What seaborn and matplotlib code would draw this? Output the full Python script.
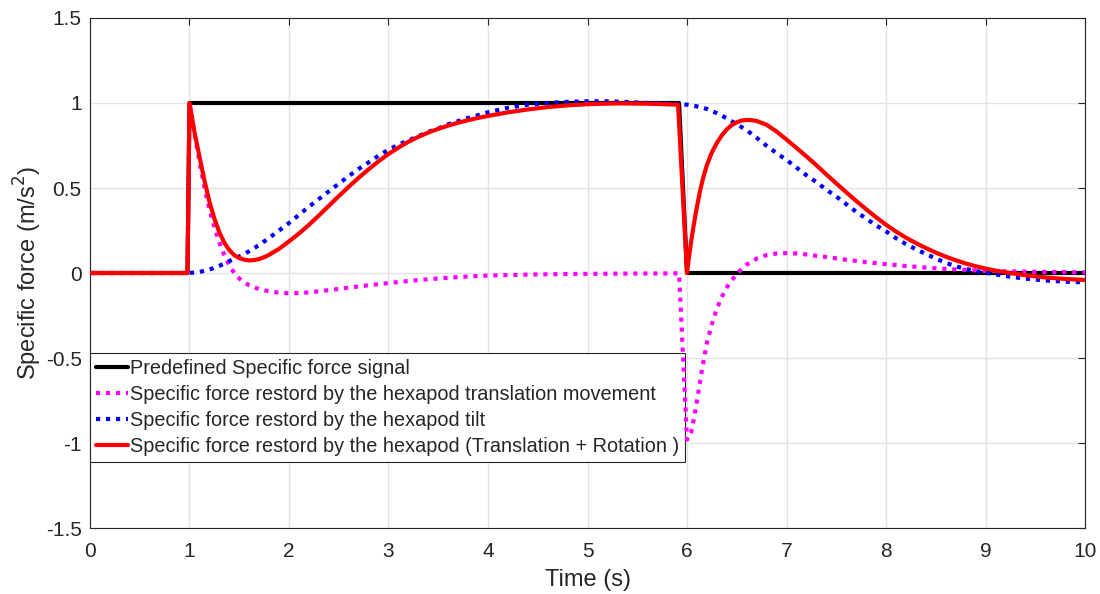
import numpy as np
import pandas as pd
import matplotlib
matplotlib.use("Agg")
import matplotlib.pyplot as plt
import seaborn as sns

# values
t_ref = [0.0, 0.98, 1.0, 5.92, 6.0, 10.0]
f_ref = [0.0, 0.0, 1.0, 1.0, 0.0, 0.0]

t_trans = [0.0, 0.98, 1.0, 1.05, 1.1, 1.15, 1.2, 1.25, 1.3, 1.35, 1.4, 1.45, 1.5, 1.55,
           1.6, 1.7, 1.8, 1.9, 2.0, 2.1, 2.2, 2.4, 2.6, 2.8, 3.0, 3.25, 3.5, 3.75,
           4.0, 4.5, 5.0, 5.5, 5.92, 6.0, 6.02, 6.04, 6.06, 6.08, 6.1, 6.12, 6.15,
           6.2, 6.25, 6.3, 6.35, 6.4, 6.45, 6.5, 6.55, 6.6, 6.7, 6.8, 6.9, 7.0, 7.1,
           7.2, 7.3, 7.45, 7.6, 7.8, 8.0, 8.2, 8.4, 8.6, 8.8, 9.0, 9.3, 9.6, 10.0]
f_trans = [0.0, 0.0, 1.0, 0.82, 0.655, 0.505, 0.375, 0.27, 0.18, 0.105, 0.045, 0.0,
           -0.032, -0.055, -0.072, -0.095, -0.108, -0.116, -0.119, -0.118, -0.114,
           -0.101, -0.086, -0.072, -0.059, -0.044, -0.032, -0.022, -0.015, -0.008,
           -0.005, -0.003, -0.002, -0.98, -0.97, -0.94, -0.885, -0.82, -0.75, -0.68,
           -0.57, -0.41, -0.3, -0.21, -0.14, -0.085, -0.042, -0.008, 0.025, 0.05,
           0.085, 0.105, 0.115, 0.117, 0.115, 0.109, 0.101, 0.09, 0.078, 0.064,
           0.052, 0.041, 0.032, 0.024, 0.018, 0.013, 0.009, 0.006, 0.004]

t_tilt = [0.0, 1.0, 1.1, 1.2, 1.3, 1.4, 1.5, 1.6, 1.7, 1.8, 1.9, 2.0, 2.1, 2.2, 2.3,
          2.4, 2.5, 2.6, 2.7, 2.8, 2.9, 3.0, 3.1, 3.2, 3.3, 3.4, 3.5, 3.6, 3.8, 4.0,
          4.2, 4.4, 4.6, 4.8, 5.0, 5.2, 5.4, 5.6, 5.8, 6.0, 6.1, 6.2, 6.3, 6.4, 6.5,
          6.6, 6.7, 6.8, 6.9, 7.0, 7.1, 7.2, 7.3, 7.4, 7.5, 7.6, 7.7, 7.8, 7.9, 8.0,
          8.1, 8.2, 8.3, 8.4, 8.5, 8.6, 8.7, 8.8, 8.9, 9.0, 9.2, 9.4, 9.6, 9.8, 10.0]
f_tilt = [0.0, 0.0, 0.006, 0.02, 0.042, 0.07, 0.097, 0.128, 0.165, 0.206, 0.25, 0.294,
          0.342, 0.39, 0.435, 0.48, 0.525, 0.57, 0.612, 0.65, 0.69, 0.725, 0.755,
          0.78, 0.805, 0.83, 0.85, 0.875, 0.912, 0.945, 0.972, 0.99, 1.0, 1.007,
          1.01, 1.01, 1.006, 1.0, 0.997, 0.99, 0.98, 0.965, 0.94, 0.91, 0.875, 0.84,
          0.795, 0.748, 0.705, 0.665, 0.62, 0.575, 0.535, 0.49, 0.45, 0.405, 0.36,
          0.32, 0.28, 0.245, 0.205, 0.17, 0.14, 0.112, 0.085, 0.06, 0.04, 0.024,
          0.012, 0.002, -0.018, -0.033, -0.044, -0.051, -0.055]

t_total = [0.0, 0.98, 1.0, 1.05, 1.1, 1.15, 1.2, 1.25, 1.3, 1.35, 1.4, 1.45, 1.5, 1.55,
           1.6, 1.65, 1.7, 1.75, 1.8, 1.9, 2.0, 2.1, 2.2, 2.3, 2.4, 2.5, 2.6, 2.7,
           2.8, 2.9, 3.0, 3.1, 3.2, 3.3, 3.4, 3.5, 3.6, 3.7, 3.8, 3.9, 4.0, 4.2, 4.4,
           4.6, 4.8, 5.0, 5.3, 5.6, 5.91, 6.0, 6.02, 6.04, 6.06, 6.08, 6.1, 6.13,
           6.16, 6.2, 6.25, 6.3, 6.35, 6.4, 6.45, 6.5, 6.55, 6.6, 6.65, 6.7, 6.8,
           6.9, 7.0, 7.1, 7.2, 7.3, 7.4, 7.5, 7.6, 7.7, 7.8, 7.9, 8.0, 8.1, 8.2, 8.3,
           8.4, 8.5, 8.6, 8.7, 8.8, 8.9, 9.0, 9.1, 9.2, 9.4, 9.6, 9.8, 10.0]
f_total = [0.0, 0.0, 1.0, 0.83, 0.686, 0.545, 0.42, 0.32, 0.24, 0.178, 0.135, 0.105,
           0.088, 0.078, 0.074, 0.076, 0.082, 0.093, 0.107, 0.142, 0.186, 0.232,
           0.283, 0.338, 0.395, 0.452, 0.507, 0.56, 0.61, 0.657, 0.7, 0.738, 0.772,
           0.801, 0.826, 0.848, 0.867, 0.884, 0.899, 0.912, 0.924, 0.945, 0.962,
           0.976, 0.986, 0.993, 0.998, 0.996, 0.99, 0.0, 0.095, 0.18, 0.255, 0.325,
           0.39, 0.48, 0.555, 0.635, 0.71, 0.765, 0.81, 0.845, 0.87, 0.887, 0.897,
           0.9, 0.899, 0.894, 0.872, 0.832, 0.785, 0.736, 0.686, 0.634, 0.58, 0.527,
           0.475, 0.424, 0.375, 0.328, 0.284, 0.244, 0.208, 0.176, 0.147, 0.12,
           0.096, 0.075, 0.056, 0.04, 0.026, 0.014, 0.004, -0.013, -0.026, -0.035,
           -0.041]

labels = ["Predefined Specific force signal",
          "Specific force restord by the hexapod translation movement",
          "Specific force restord by the hexapod tilt",
          "Specific force restord by the hexapod (Translation + Rotation )"]
x_ticks = [0, 1, 2, 3, 4, 5, 6, 7, 8, 9, 10]
y_ticks = [-1.5, -1, -0.5, 0, 0.5, 1, 1.5]
y_ticklabels = ["-1.5", "-1", "-0.5", "0", "0.5", "1", "1.5"]

sns.set_theme(style="white")
plt.rcParams["font.family"] = ["Liberation Sans", "DejaVu Sans"]
dark = "#262626"

fig = plt.figure(figsize=(11, 5.94), dpi=100)
ax = fig.add_axes([0.0818, 0.1111, 0.9046, 0.8586])

series = [(t_ref, f_ref, "black", "-"),
          (t_trans, f_trans, "#ff00ff", (0, (1, 1.4))),
          (t_tilt, f_tilt, "#0000ff", (0, (1, 1.4))),
          (t_total, f_total, "#ff0000", "-")]
for (tt, ff, col, ls), lab in zip(series, labels):
    df = pd.DataFrame({"t": tt, "f": ff})
    sns.lineplot(data=df, x="t", y="f", sort=False, estimator=None, color=col,
                 linewidth=3, linestyle=ls, label=lab, ax=ax, zorder=3)

ax.set_xlim(0, 10)
ax.set_ylim(-1.5, 1.5)
ax.set_xticks(x_ticks)
ax.set_xticklabels([str(v) for v in x_ticks])
ax.set_yticks(y_ticks)
ax.set_yticklabels(y_ticklabels)
ax.grid(True, color="#e3e3e3", linewidth=1)
ax.set_axisbelow(True)
ax.tick_params(direction="in", length=5, width=0.8, colors=dark, labelsize=15,
               top=True, right=True, labeltop=False, labelright=False)
ax.tick_params(axis="x", pad=10)
ax.tick_params(axis="y", pad=6)
for s in ax.spines.values():
    s.set_color(dark)
    s.set_linewidth(0.8)
ax.set_xlabel("Time (s)", fontsize=17, color=dark, labelpad=6)
ax.set_ylabel("Specific force (m/s$^2$)", fontsize=17, color=dark, labelpad=1)

leg = ax.legend(loc="upper left", bbox_to_anchor=(0.0, 0.343), borderaxespad=0,
                fontsize=14.3, frameon=True, fancybox=False, framealpha=1,
                edgecolor=dark, handlelength=1.6, handletextpad=0.12,
                borderpad=0.3, labelspacing=0.35)
leg.get_frame().set_linewidth(0.8)
leg.set_zorder(2.5)

fig.savefig("out.png", dpi=100, facecolor="white")
